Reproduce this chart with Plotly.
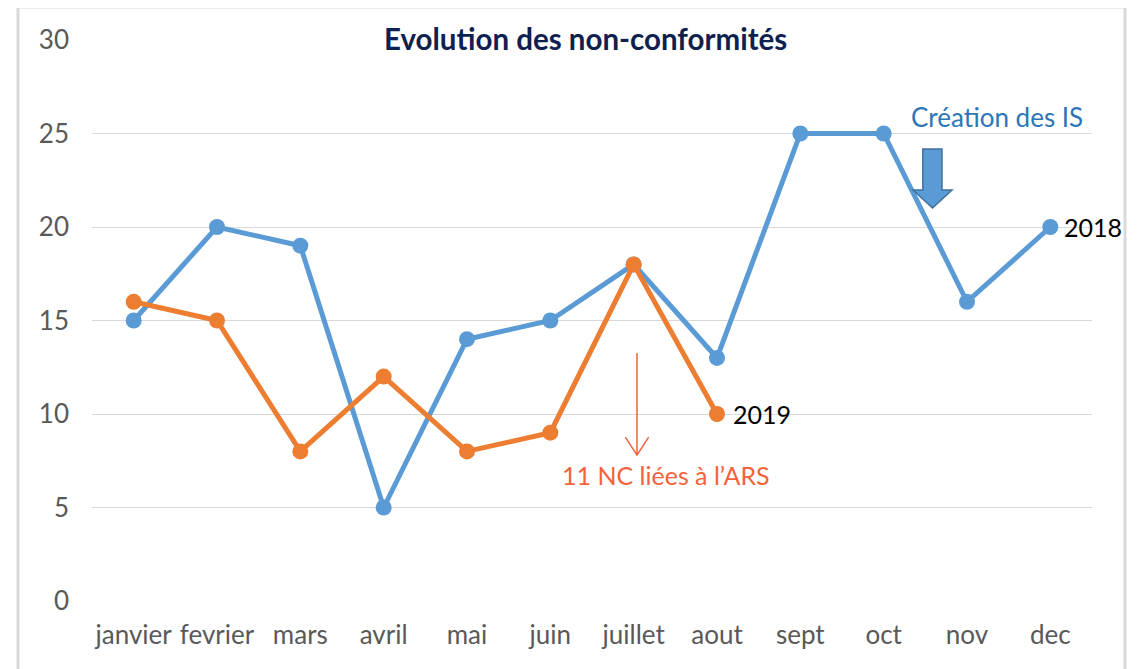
import plotly.graph_objects as go

months = ["janvier", "fevrier", "mars", "avril", "mai", "juin", "juillet",
          "aout", "sept", "oct", "nov", "dec"]
nc_2018 = [15, 20, 19, 5, 14, 15, 18, 13, 25, 25, 16, 20]
nc_2019 = [16, 15, 8, 12, 8, 9, 18, 10]
y_ticks = [0, 5, 10, 15, 20, 25, 30]

BLUE = "#5b9bd5"
ORANGE = "#ed7d31"
FONT = "Lato"

fig = go.Figure()
fig.add_trace(go.Scatter(x=months, y=nc_2018, mode="lines+markers", name="2018",
                         line=dict(color=BLUE, width=5),
                         marker=dict(color=BLUE, size=16)))
fig.add_trace(go.Scatter(x=months[:len(nc_2019)], y=nc_2019, mode="lines+markers", name="2019",
                         line=dict(color=ORANGE, width=5),
                         marker=dict(color=ORANGE, size=16)))

fig.update_layout(
    width=1132, height=661,
    margin=dict(l=84, r=48, t=32, b=68),
    paper_bgcolor="white", plot_bgcolor="white",
    showlegend=False,
    font=dict(family=FONT, size=26, color="#595959"),
    xaxis=dict(type="category", categoryorder="array", categoryarray=months,
               range=[-0.5, 11.5], showgrid=False, zeroline=False, showline=False,
               ticks="", tickfont=dict(size=26, color="#595959"), ticklabelstandoff=16),
    yaxis=dict(range=[0, 30], tickvals=y_ticks, showgrid=True, gridcolor="#d9d9d9",
               gridwidth=1, zeroline=False, showline=False, ticks="",
               tickfont=dict(size=26, color="#595959"), ticklabelstandoff=22),
)

# outer chart frame
fig.add_shape(type="rect", xref="paper", yref="paper",
              x0=-0.074, x1=1.033, y0=-0.14, y1=1.0588,
              line=dict(color="#d9d9d9", width=3), layer="below")

# title (with white background hiding the gridline)
fig.add_annotation(xref="paper", yref="y", x=0.493, y=30, yshift=2,
                   text="<b>Evolution des non-conformités</b>", showarrow=False,
                   font=dict(family=FONT, size=29.5, color="#0e1f50"),
                   bgcolor="white", borderpad=1)

# series end labels
fig.add_annotation(x=11, y=20, text="2018", showarrow=False, xanchor="left",
                   xshift=12, font=dict(family=FONT, size=25, color="black"))
fig.add_annotation(x=7, y=10, text="2019", showarrow=False, xanchor="left",
                   xshift=14, font=dict(family=FONT, size=25, color="black"))

# "Création des IS" + block arrow
fig.add_annotation(x=10.36, y=25.9, text="Création des IS", showarrow=False,
                   font=dict(family=FONT, size=26, color="#2e75b6"))
fig.add_shape(type="path", xref="x", yref="y",
              path="M 9.47 24.17 L 9.70 24.17 L 9.70 21.98 L 9.82 21.98 L 9.586 21.02 "
                   "L 9.352 21.98 L 9.47 21.98 Z",
              fillcolor=BLUE, line=dict(color="#41719c", width=1.5))

# "11 NC liées à l'ARS" + thin arrow
fig.add_shape(type="path", xref="x", yref="y",
              path="M 6.04 13.26 L 6.04 7.8 M 5.90 8.76 L 6.04 7.8 L 6.18 8.76",
              line=dict(color="#f4623a", width=1.5))
fig.add_annotation(x=6.39, y=6.75, text="11 NC liées à l’ARS", showarrow=False,
                   font=dict(family=FONT, size=25, color="#f4623a"))

fig.write_html("out.html")
